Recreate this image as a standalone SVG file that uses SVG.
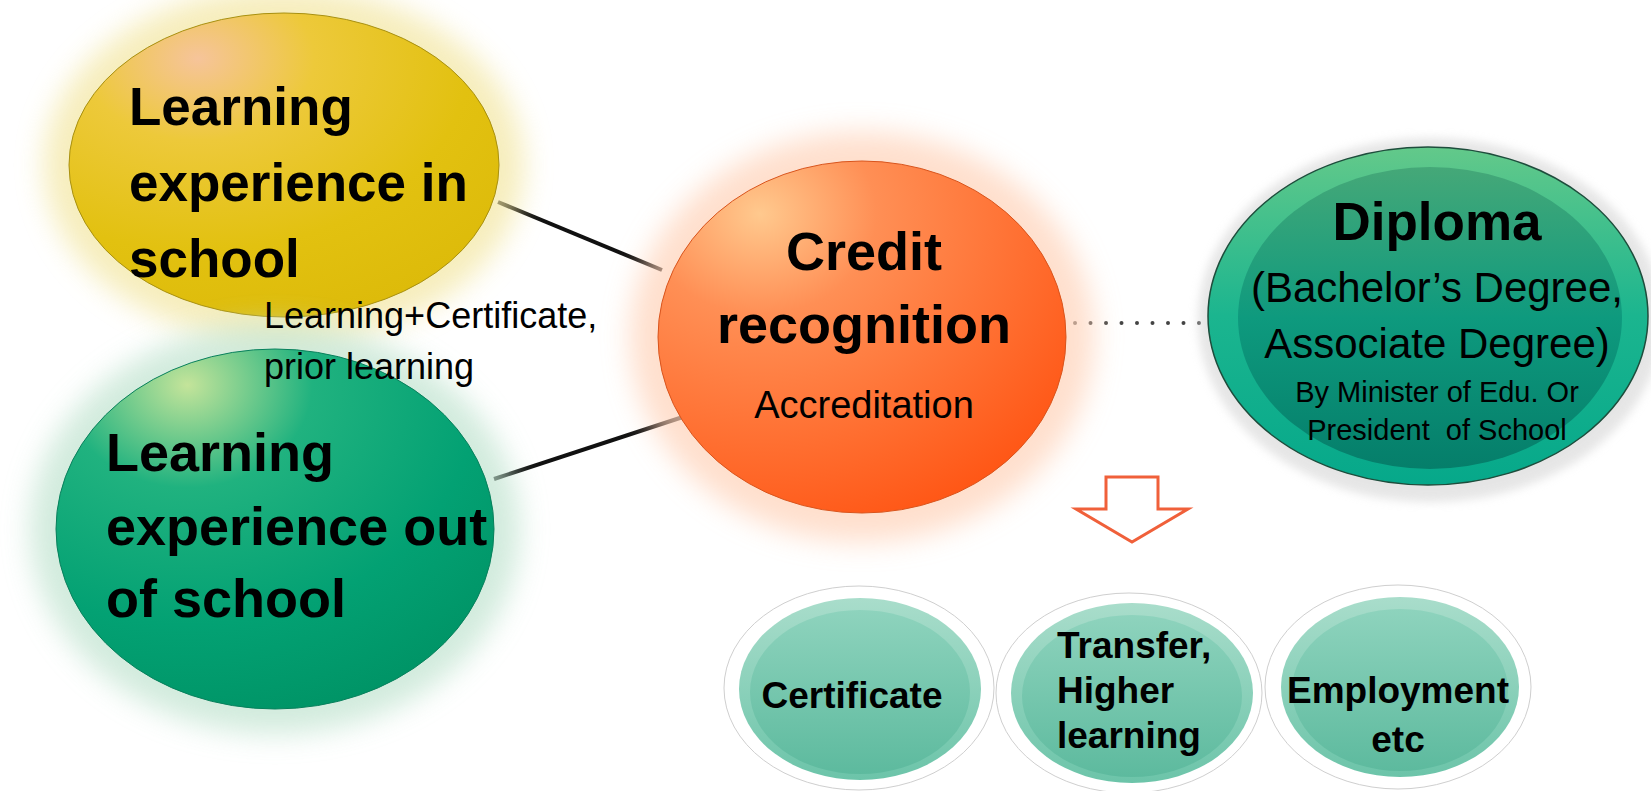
<svg xmlns="http://www.w3.org/2000/svg" width="1651" height="791" viewBox="0 0 1651 791">
<defs>
<style>
.b{font-family:"Liberation Sans",Arial,sans-serif;font-weight:bold;fill:#000}
.r{font-family:"Liberation Sans",Arial,sans-serif;fill:#000}
.conn{stroke:#111;stroke-width:4;fill:none}
</style>
<filter id="blur" x="-30%" y="-30%" width="160%" height="160%"><feGaussianBlur stdDeviation="14"/></filter>
<filter id="blurS" x="-30%" y="-30%" width="160%" height="160%"><feGaussianBlur stdDeviation="5"/></filter>
<radialGradient id="gY" cx="0.3" cy="0.15" r="0.9">
<stop offset="0" stop-color="#F6C49A"/><stop offset="0.3" stop-color="#EDC93A"/><stop offset="0.7" stop-color="#E2C110"/><stop offset="1" stop-color="#DDBB0A"/>
</radialGradient>
<radialGradient id="gG" cx="0.3" cy="0.1" r="0.95">
<stop offset="0" stop-color="#C4E49A"/><stop offset="0.3" stop-color="#20B27F"/><stop offset="0.7" stop-color="#03A173"/><stop offset="1" stop-color="#009466"/>
</radialGradient>
<radialGradient id="gO" cx="0.25" cy="0.15" r="0.95">
<stop offset="0" stop-color="#FFC98E"/><stop offset="0.3" stop-color="#FF8F55"/><stop offset="0.7" stop-color="#FF6E30"/><stop offset="1" stop-color="#FF5514"/>
</radialGradient>
<linearGradient id="gDo" x1="0" y1="0" x2="0" y2="1">
<stop offset="0" stop-color="#63C98A"/><stop offset="0.5" stop-color="#1BB58F"/><stop offset="1" stop-color="#06A88A"/>
</linearGradient>
<linearGradient id="gDi" x1="0" y1="0" x2="0" y2="1">
<stop offset="0" stop-color="#45A878"/><stop offset="0.5" stop-color="#0E9A7E"/><stop offset="1" stop-color="#057E6A"/>
</linearGradient>
<linearGradient id="gTo" x1="0" y1="0" x2="0" y2="1">
<stop offset="0" stop-color="#A9DDCB"/><stop offset="1" stop-color="#6CC4A9"/>
</linearGradient>
<linearGradient id="gTi" x1="0" y1="0" x2="0" y2="1">
<stop offset="0" stop-color="#8ED3BD"/><stop offset="1" stop-color="#5DBA9E"/>
</linearGradient>
</defs>
<rect width="1651" height="791" fill="#fff"/>

<g id="connectors">
<line class="conn" x1="498" y1="202" x2="662" y2="270"/>
<line class="conn" x1="494" y1="479" x2="692" y2="414"/>
<line x1="1075" y1="323" x2="1200" y2="323" stroke="#444" stroke-width="4" stroke-linecap="round" stroke-dasharray="0 15.5"/>
</g>

<g id="node-in-school">
<ellipse cx="284" cy="165" rx="240" ry="178" fill="#F3E6A0" opacity="0.7" filter="url(#blur)"/>
<ellipse cx="284" cy="165" rx="215" ry="152" fill="url(#gY)" stroke="#A89010" stroke-width="1"/>
<text class="b" font-size="53" x="129" y="125">Learning</text>
<text class="b" font-size="53" x="129" y="201">experience in</text>
<text class="b" font-size="53" x="129" y="277">school</text>
</g>

<g id="node-out-school">
<ellipse cx="275" cy="529" rx="245" ry="205" fill="#BFE3CF" opacity="0.7" filter="url(#blur)"/>
<ellipse cx="275" cy="529" rx="219" ry="180" fill="url(#gG)" stroke="#08805C" stroke-width="1"/>
<text class="b" font-size="54" x="106" y="471">Learning</text>
<text class="b" font-size="54" x="106" y="545">experience out</text>
<text class="b" font-size="54" x="106" y="617">of school</text>
</g>

<g id="edge-label">
<text class="r" font-size="36" x="264" y="328">Learning+Certificate,</text>
<text class="r" font-size="36" x="264" y="379">prior learning</text>
</g>

<g id="node-credit">
<ellipse cx="862" cy="337" rx="232" ry="205" fill="#FFD2B8" opacity="0.7" filter="url(#blur)"/>
<ellipse cx="862" cy="337" rx="204" ry="176" fill="url(#gO)" stroke="#D9541C" stroke-width="1"/>
<text class="b" font-size="54" x="864" y="270" text-anchor="middle">Credit</text>
<text class="b" font-size="54" x="864" y="343" text-anchor="middle">recognition</text>
<text class="r" font-size="38" x="864" y="418" text-anchor="middle">Accreditation</text>
</g>

<g id="node-diploma">
<ellipse cx="1430" cy="320" rx="232" ry="182" fill="#D5D5D5" opacity="0.6" filter="url(#blurS)"/>
<ellipse cx="1428" cy="316" rx="220" ry="169" fill="url(#gDo)" stroke="#1E4D3C" stroke-width="1.5"/>
<ellipse cx="1430" cy="318" rx="192" ry="151" fill="url(#gDi)"/>
<text class="b" font-size="53" x="1437" y="240" text-anchor="middle">Diploma</text>
<text class="r" font-size="42" x="1437" y="302" text-anchor="middle">(Bachelor’s Degree,</text>
<text class="r" font-size="42" x="1437" y="358" text-anchor="middle">Associate Degree)</text>
<text class="r" font-size="29" x="1437" y="402" text-anchor="middle">By Minister of Edu. Or</text>
<text class="r" font-size="29" x="1437" y="440" text-anchor="middle" xml:space="preserve">President  of School</text>
</g>

<g id="arrow">
<path d="M1106,477 L1158,477 L1158,509 L1188,509 L1132,542 L1076,509 L1106,509 Z" fill="#fff" stroke="#F0603A" stroke-width="3" stroke-linejoin="miter"/>
</g>

<g id="node-certificate">
<ellipse cx="859" cy="688" rx="135" ry="102" fill="#fff" stroke="#CFCFCF" stroke-width="1"/>
<ellipse cx="860" cy="689" rx="121" ry="91" fill="url(#gTo)"/>
<ellipse cx="860" cy="692" rx="110" ry="82" fill="url(#gTi)"/>
<text class="b" font-size="37" x="852" y="708" text-anchor="middle">Certificate</text>
</g>

<g id="node-transfer">
<ellipse cx="1129" cy="693" rx="133" ry="100" fill="#fff" stroke="#CFCFCF" stroke-width="1"/>
<ellipse cx="1132" cy="693" rx="121" ry="90" fill="url(#gTo)"/>
<ellipse cx="1132" cy="696" rx="110" ry="81" fill="url(#gTi)"/>
<text class="b" font-size="37" x="1057" y="658">Transfer,</text>
<text class="b" font-size="37" x="1057" y="703">Higher</text>
<text class="b" font-size="37" x="1057" y="748">learning</text>
</g>

<g id="node-employment">
<ellipse cx="1398" cy="687" rx="133" ry="102" fill="#fff" stroke="#CFCFCF" stroke-width="1"/>
<ellipse cx="1400" cy="687" rx="119" ry="90" fill="url(#gTo)"/>
<ellipse cx="1400" cy="690" rx="108" ry="81" fill="url(#gTi)"/>
<text class="b" font-size="37" x="1398" y="703" text-anchor="middle">Employment</text>
<text class="b" font-size="37" x="1398" y="752" text-anchor="middle">etc</text>
</g>
</svg>
